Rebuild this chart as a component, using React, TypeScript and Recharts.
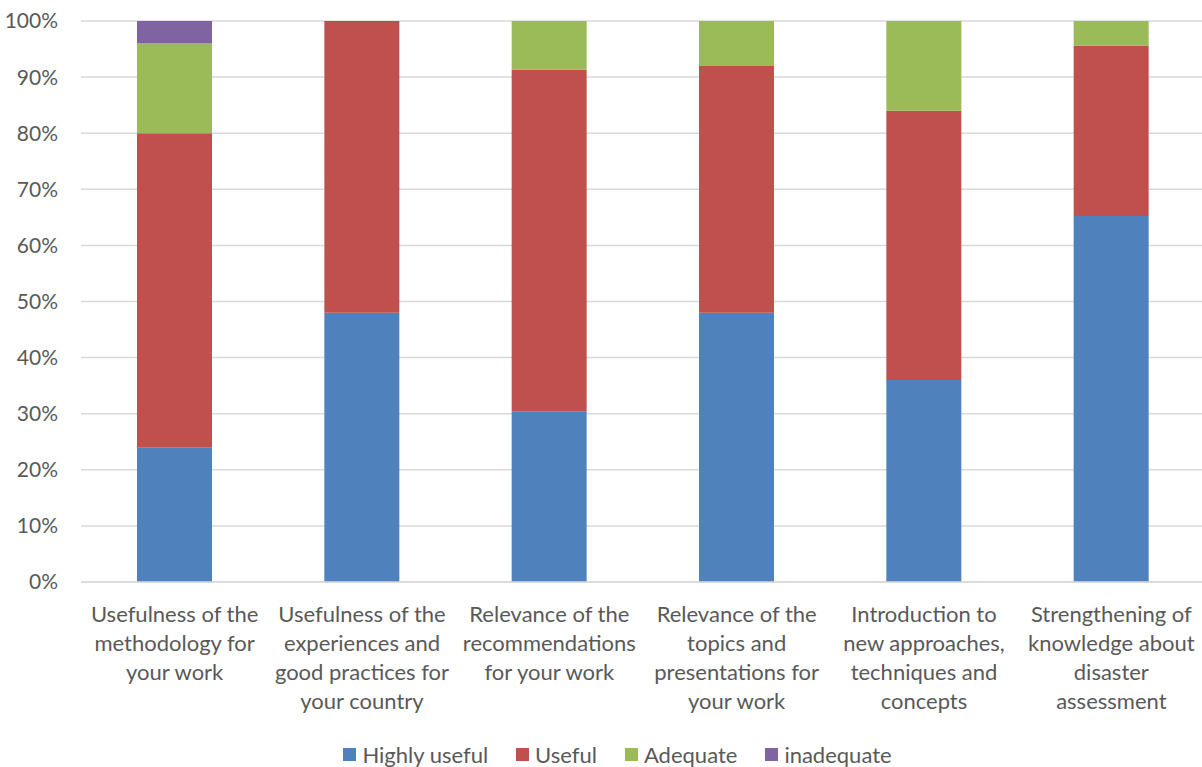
import React from "react";
import { BarChart, Bar, XAxis, YAxis, CartesianGrid, Legend } from "recharts";

const categories = [
  "Usefulness of the methodology for your work",
  "Usefulness of the experiences and good practices for your country",
  "Relevance of the recommendations for your work",
  "Relevance of the topics and presentations for your work",
  "Introduction to new approaches, techniques and concepts",
  "Strengthening of knowledge about disaster assessment",
];
const categoryLines = [
  ["Usefulness of the", "methodology for", "your work"],
  ["Usefulness of the", "experiences and", "good practices for", "your country"],
  ["Relevance of the", "recommendations", "for your work"],
  ["Relevance of the", "topics and", "presentations for", "your work"],
  ["Introduction to", "new approaches,", "techniques and", "concepts"],
  ["Strengthening of", "knowledge about", "disaster", "assessment"],
];
const highlyUseful = [24, 48, 30.43, 48, 36, 65.22];
const useful = [56, 52, 60.87, 44, 48, 30.43];
const adequate = [16, 0, 8.7, 8, 16, 4.35];
const inadequate = [4, 0, 0, 0, 0, 0];
const yTicks = [0, 10, 20, 30, 40, 50, 60, 70, 80, 90, 100];

const seriesNames = ["Highly useful", "Useful", "Adequate", "inadequate"];
const seriesColors = ["#4F81BD", "#C0504D", "#9BBB59", "#8064A2"];

const data = categories.map((c, i) => ({
  name: c,
  idx: i,
  s0: highlyUseful[i],
  s1: useful[i],
  s2: adequate[i],
  s3: inadequate[i],
}));

const FONT = "Lato, 'Open Sans', sans-serif";
const TEXT = "#595959";

const CatTick = (props: any) => {
  const { x, y, payload } = props;
  const lines = categoryLines[payload.index] || [String(payload.value)];
  return (
    <text x={x} y={y} textAnchor="middle" fill={TEXT} fontSize={22} fontFamily={FONT}>
      {lines.map((l: string, i: number) => (
        <tspan key={i} x={x} y={y + 32 + i * 29}>
          {l}
        </tspan>
      ))}
    </text>
  );
};

const LegendContent = () => (
  <div
    style={{
      display: "flex",
      justifyContent: "center",
      alignItems: "center",
      fontFamily: FONT,
      fontSize: 22,
      color: TEXT,
      paddingTop: 4,
      paddingLeft: 30,
    }}
  >
    {seriesNames.map((n, i) => (
      <div key={n} style={{ display: "flex", alignItems: "center", marginRight: i < 3 ? 28 : 0 }}>
        <span
          style={{
            display: "inline-block",
            width: 13,
            height: 13,
            background: seriesColors[i],
            marginRight: 6,
          }}
        />
        <span>{n}</span>
      </div>
    ))}
  </div>
);

export default function App() {
  return (
    <div style={{ position: "absolute", left: 0, top: 0, width: 1202, height: 767, background: "#fff", overflow: "hidden" }}>
      <BarChart
        width={1202}
        height={767}
        data={data}
        margin={{ top: 21, right: -3, left: 0, bottom: 0 }}
        barSize={75}
      >
        <CartesianGrid vertical={false} stroke="#d9d9d9" strokeWidth={1.5} />
        <XAxis
          dataKey="name"
          tick={<CatTick />}
          tickLine={false}
          axisLine={{ stroke: "#d9d9d9", strokeWidth: 1.5 }}
          height={155}
          interval={0}
        />
        <YAxis
          width={81}
          domain={[0, 100]}
          ticks={yTicks}
          tickFormatter={(v: number) => `${v}%`}
          tickLine={false}
          axisLine={false}
          tickSize={6}
          tickMargin={17}
          tick={{ fill: TEXT, fontSize: 21, fontFamily: FONT }}
          interval={0}
        />
        <Legend verticalAlign="bottom" height={30} content={<LegendContent />} />
        {seriesNames.map((n, i) => (
          <Bar
            key={n}
            dataKey={`s${i}`}
            name={n}
            stackId="a"
            fill={seriesColors[i]}
            isAnimationActive={false}
          />
        ))}
      </BarChart>
    </div>
  );
}
